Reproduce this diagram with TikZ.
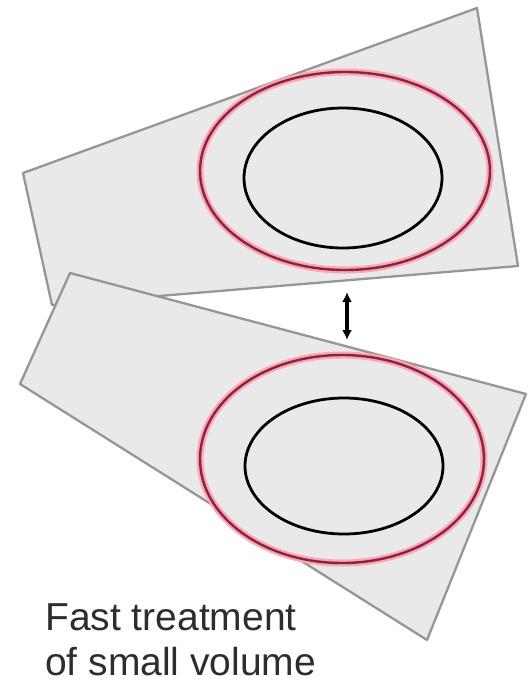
\documentclass[tikz,border=0pt]{standalone}
\usepackage{fontspec}
\setmainfont{Liberation Sans}
\usetikzlibrary{arrows.meta}
\definecolor{slabfill}{RGB}{233,233,233}
\definecolor{slabedge}{RGB}{150,150,150}
\definecolor{ringred}{RGB}{150,30,55}
\definecolor{ringhalo}{RGB}{244,168,184}
\definecolor{textgray}{RGB}{45,45,45}
\tikzset{
  slab/.style={fill=slabfill,draw=slabedge,line width=2.3pt,line join=round},
  halo/.style={draw=ringhalo,line width=7pt,fill=slabfill},
  redring/.style={draw=ringred,line width=2.4pt},
  blackring/.style={draw=black,line width=2.8pt,fill=slabfill},
  gap/.style={{Latex[length=10pt,width=10pt]}-{Latex[length=10pt,width=10pt]},line width=3.2pt,black},
  caption/.style={anchor=base west,align=left,text=textgray,inner sep=0pt,
    font=\fontsize{39}{45}\selectfont}
}
\begin{document}
\begin{tikzpicture}[x=1pt,y=-1pt]
\useasboundingbox (0,0) rectangle (529,691);
% upper slab
\draw[slab] (23,173) -- (477,8) -- (518,266) -- (52,305) -- cycle;
\draw[halo] (345,171) ellipse [x radius=145,y radius=99];
\draw[redring] (345,171) ellipse [x radius=145,y radius=99];
\draw[blackring] (343,178) ellipse [x radius=99,y radius=70];
% lower slab
\draw[slab] (70,273) -- (526,394) -- (427,640) -- (20,384) -- cycle;
\draw[halo] (342,459) ellipse [x radius=142,y radius=104];
\draw[redring] (342,459) ellipse [x radius=142,y radius=104];
\draw[blackring] (344,466) ellipse [x radius=99,y radius=68];
% gap arrow
\coordinate (gaptop) at (347,292);
\coordinate (gapbot) at (347,340);
\draw[gap] (gaptop) -- (gapbot);
% caption (base anchor = baseline of the last line)
\node[caption] (cap) at (45,675) {Fast treatment\\of small volume};
\end{tikzpicture}
\end{document}
